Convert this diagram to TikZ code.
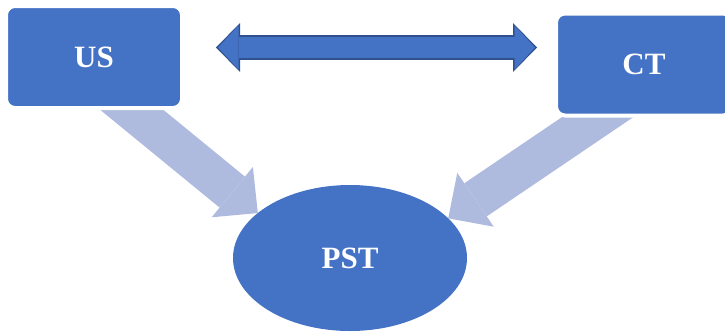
\documentclass[tikz,border=0pt]{standalone}
\usepackage{fontspec}
\setmainfont{Liberation Serif}
\usepackage{xcolor}
\usetikzlibrary{arrows.meta,shapes.geometric,backgrounds}

\definecolor{boxblue}{HTML}{4472C4}
\definecolor{edgeblue}{HTML}{2F528F}
\definecolor{paleblue}{HTML}{AEBBDE}

\begin{document}
\begin{tikzpicture}[x=1pt, y=-1pt,
	block/.style={rectangle, rounded corners=9pt, fill=boxblue, draw=white, line width=4pt,
		minimum width=176pt, minimum height=102pt, outer sep=0pt, text=white,
		font=\fontsize{31}{36}\selectfont\bfseries},
	blob/.style={ellipse, fill=boxblue, minimum width=234pt, minimum height=146pt,
		outer sep=0pt, text=white, font=\fontsize{31}{36}\selectfont\bfseries},
	flow/.style={paleblue, line width=40pt, -{Triangle[length=33pt,width=65pt,line width=0pt]}},
	linkout/.style={edgeblue, line width=24.5pt,
		{Triangle[length=24pt,width=49pt,line width=0pt]}-{Triangle[length=24pt,width=49pt,line width=0pt]}},
	linkin/.style={boxblue, line width=21.5pt, shorten <=2pt, shorten >=2pt,
		{Triangle[length=20.5pt,width=44pt,line width=0pt]}-{Triangle[length=20.5pt,width=44pt,line width=0pt]}}]

\useasboundingbox (0,0) rectangle (725,332);

\foreach \name/\pos in {US/{(94,57)}, CT/{(644,64.5)}}
{
	\node[block] (\name) at \pos {\name};
}
\node[blob] (PST) at (350,258) {PST};

% double link between the two boxes
\coordinate (ltip) at (216,47.5);
\coordinate (rtip) at (537,47.5);
\draw[linkout] (ltip) -- (rtip);
\draw[linkin] (ltip) -- (rtip);

\begin{scope}[on background layer]
\draw[flow] ([shift={(5,-25)}]US.south) -- (PST.154);
\draw[flow] ([shift={(-7,-25)}]CT.south) -- (PST.22);
\end{scope}

\end{tikzpicture}
\end{document}
